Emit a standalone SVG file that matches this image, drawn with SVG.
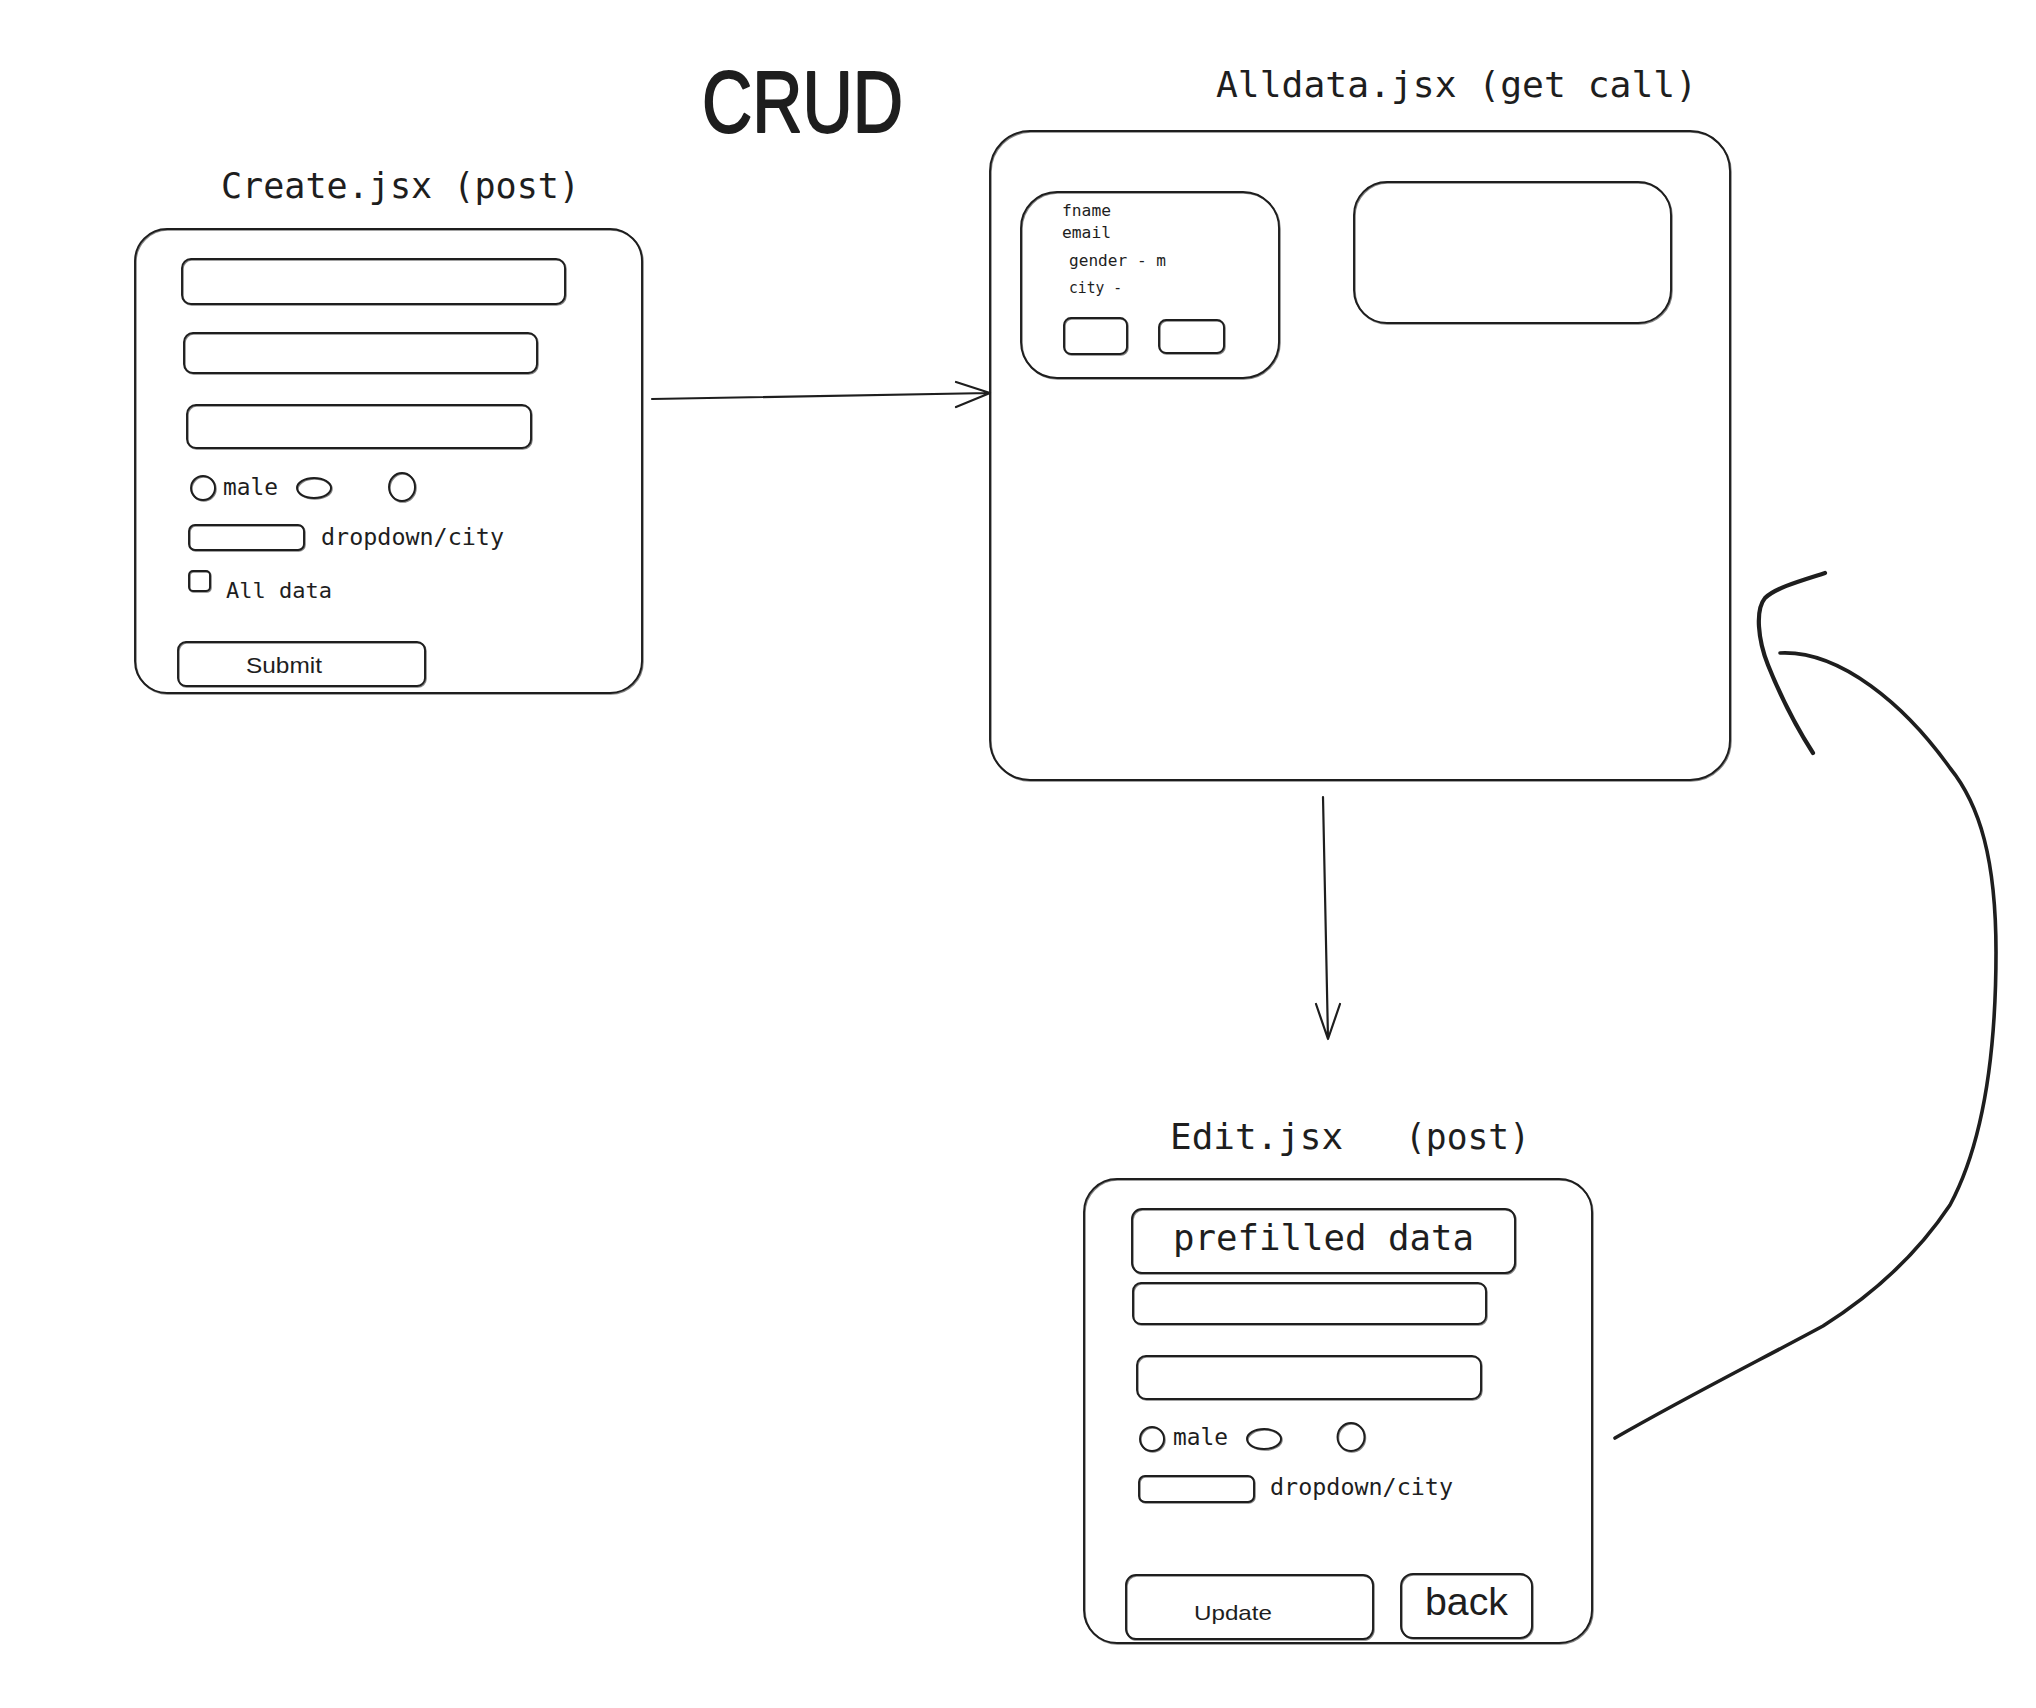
<svg xmlns="http://www.w3.org/2000/svg" xmlns:xlink="http://www.w3.org/1999/xlink" width="2036" height="1708" viewBox="0 0 2036 1708">
<style>
.sk{fill:none;stroke:#1e1e1e;stroke-width:1.9;stroke-linejoin:round;stroke-linecap:round}
.gh{opacity:0.55}
.mono{font-family:"DejaVu Sans Mono","Liberation Mono",monospace;fill:#1e1e1e}
.sans{font-family:"Liberation Sans",Arial,sans-serif;fill:#1e1e1e}
.con{fill:none;stroke:#1e1e1e;stroke-linecap:round;stroke-linejoin:round}
</style>
<rect width="2036" height="1708" fill="#ffffff"/>

<g id="title">
<text x="702" y="132" class="sans" font-size="88" textLength="201" lengthAdjust="spacingAndGlyphs" stroke="#1e1e1e" stroke-width="2" stroke-linejoin="round">CRUD</text>
</g>

<g id="create">
<text x="221" y="198" class="mono" font-size="35" textLength="359" lengthAdjust="spacingAndGlyphs">Create.jsx (post)</text>
<g id="create-shapes" class="sk">
<rect x="135" y="229" width="507" height="464" rx="32"/>
<rect x="182" y="259" width="383" height="45" rx="9"/>
<rect x="184" y="333" width="353" height="40" rx="9"/>
<rect x="187" y="405" width="344" height="43" rx="9"/>
<circle cx="203" cy="488" r="12"/>
<ellipse cx="314" cy="488" rx="17" ry="10"/>
<ellipse cx="402" cy="487" rx="13" ry="14"/>
<rect x="189" y="525" width="115" height="25" rx="6"/>
<rect x="189" y="571" width="21" height="20" rx="4"/>
<rect x="178" y="642" width="247" height="44" rx="8"/>
</g>
<use xlink:href="#create-shapes" href="#create-shapes" class="gh" transform="translate(0.8,0.9)" stroke-width="1"/>
<text x="223" y="495" class="mono" font-size="23" textLength="55" lengthAdjust="spacingAndGlyphs">male</text>
<text x="321" y="545" class="mono" font-size="23" textLength="183" lengthAdjust="spacingAndGlyphs">dropdown/city</text>
<text x="226" y="598" class="mono" font-size="22" textLength="106" lengthAdjust="spacingAndGlyphs">All data</text>
<text x="246" y="673" class="sans" font-size="22" textLength="76" lengthAdjust="spacingAndGlyphs">Submit</text>
</g>

<g id="alldata">
<text x="1216" y="97" class="mono" font-size="36" textLength="481" lengthAdjust="spacingAndGlyphs">Alldata.jsx (get call)</text>
<g id="alldata-shapes" class="sk">
<rect x="990" y="131" width="740" height="649" rx="40"/>
<rect x="1021" y="192" width="258" height="186" rx="36"/>
<rect x="1064" y="318" width="63" height="36" rx="7"/>
<rect x="1159" y="320" width="65" height="33" rx="7"/>
<rect x="1354" y="182" width="317" height="141" rx="33"/>
</g>
<use xlink:href="#alldata-shapes" href="#alldata-shapes" class="gh" transform="translate(0.8,0.9)"/>
<text x="1062" y="216" class="mono" font-size="16.5" textLength="49" lengthAdjust="spacingAndGlyphs">fname</text>
<text x="1062" y="238" class="mono" font-size="16.5" textLength="49" lengthAdjust="spacingAndGlyphs">email</text>
<text x="1069" y="266" class="mono" font-size="16.5" textLength="97" lengthAdjust="spacingAndGlyphs">gender - m</text>
<text x="1069" y="293" class="mono" font-size="16.5" textLength="53" lengthAdjust="spacingAndGlyphs">city -</text>
</g>

<g id="edit">
<text x="1170" y="1149" class="mono" font-size="36" textLength="173" lengthAdjust="spacingAndGlyphs">Edit.jsx</text>
<text x="1405" y="1149" class="mono" font-size="36" textLength="125" lengthAdjust="spacingAndGlyphs">(post)</text>
<g id="edit-shapes" class="sk">
<rect x="1084" y="1179" width="508" height="464" rx="33"/>
<rect x="1132" y="1209" width="383" height="64" rx="10"/>
<rect x="1133" y="1283" width="353" height="41" rx="8"/>
<rect x="1137" y="1356" width="344" height="43" rx="9"/>
<circle cx="1152" cy="1439" r="12"/>
<ellipse cx="1264" cy="1439" rx="17" ry="10"/>
<ellipse cx="1351" cy="1437" rx="13.5" ry="14"/>
<rect x="1139" y="1476" width="115" height="26" rx="6"/>
<rect x="1126" y="1575" width="247" height="64" rx="10"/>
<rect x="1401" y="1574" width="131" height="64" rx="12"/>
</g>
<use xlink:href="#edit-shapes" href="#edit-shapes" class="gh" transform="translate(0.8,0.9)"/>
<text x="1173" y="1250" class="mono" font-size="36" textLength="301" lengthAdjust="spacingAndGlyphs">prefilled data</text>
<text x="1173" y="1445" class="mono" font-size="23" textLength="55" lengthAdjust="spacingAndGlyphs">male</text>
<text x="1270" y="1495" class="mono" font-size="23" textLength="183" lengthAdjust="spacingAndGlyphs">dropdown/city</text>
<text x="1194" y="1620" class="sans" font-size="21" textLength="78" lengthAdjust="spacingAndGlyphs">Update</text>
<text x="1425" y="1615" class="sans" font-size="38" textLength="83" lengthAdjust="spacingAndGlyphs">back</text>
</g>

<g id="connectors">
<path class="con" stroke-width="2.2" d="M652,399 L990,393 M956,382 L990,393 L956,407"/>
<path class="con" stroke-width="2.2" d="M1323,797 L1328,1039 M1316,1004 L1328,1039 L1340,1004"/>
<path class="con" stroke-width="3.6" d="M1780,653 C1840,650 1905,705 1950,768 C1980,805 1996,860 1996,952 C1996,1050 1985,1140 1950,1205 C1920,1250 1880,1290 1823,1326 C1760,1360 1690,1395 1615,1438"/>
<path class="con" stroke-width="4.2" d="M1825,573 C1800,581 1775,588 1765,598 C1755,610 1758,640 1768,665 C1780,695 1795,725 1813,753"/>
</g>
</svg>
